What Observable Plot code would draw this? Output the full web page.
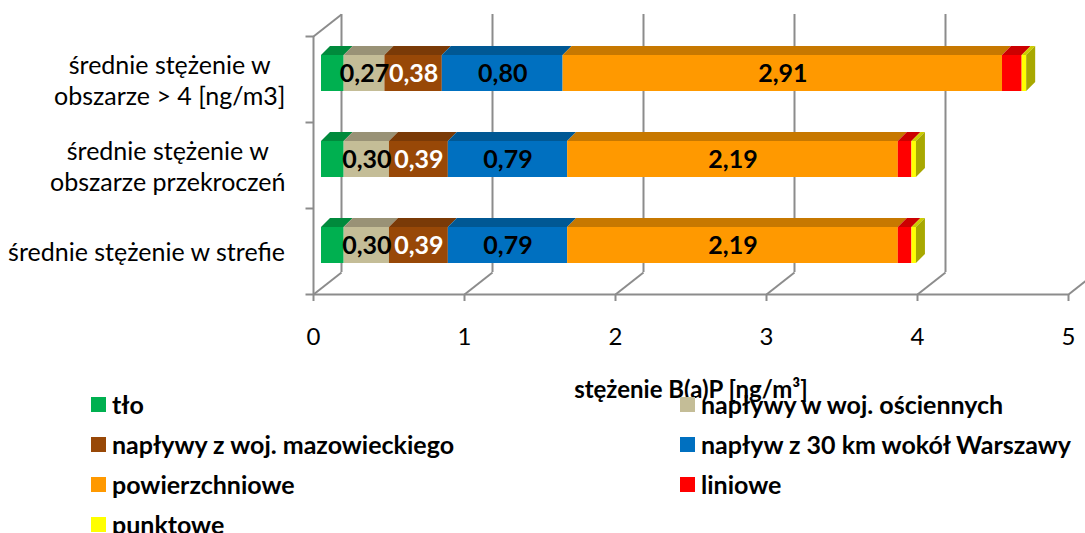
<!DOCTYPE html>
<html>
<head>
<meta charset="utf-8">
<script src="https://cdn.jsdelivr.net/npm/d3@7"></script>
<script src="https://cdn.jsdelivr.net/npm/@observablehq/plot@0.6"></script>
<style>
  html, body { margin: 0; padding: 0; background: #fff; }
  #wrap { position: relative; width: 1085px; height: 533px; overflow: hidden; font-family: Lato, sans-serif; }
  #legend { position: absolute; left: 91px; top: 384px; display: grid; grid-template-columns: 589px auto; }
  .item { height: 40px; display: flex; align-items: center; font-weight: bold; font-size: 25px; color: #000; white-space: nowrap; }
  .sw { width: 15px; height: 15px; margin-right: 6px; flex: none; }
</style>
</head>
<body>
<div id="wrap">
  <div id="chart"></div>
  <div id="legend"></div>
</div>
<script>
// ---- data ----
const categories = [
  "średnie stężenie w\nobszarze > 4 [ng/m3]",
  "średnie stężenie w\nobszarze przekroczeń",
  "średnie stężenie w strefie"
];
const seriesNames = [
  "tło",
  "napływy w woj. ościennych",
  "napływy z woj. mazowieckiego",
  "napływ z 30 km wokół Warszawy",
  "powierzchniowe",
  "liniowe",
  "punktowe"
];
const tlo            = [0.15, 0.15, 0.15];
const osciennych     = [0.27, 0.30, 0.30];
const mazowieckie    = [0.38, 0.39, 0.39];
const warszawa       = [0.80, 0.79, 0.79];
const powierzchniowe = [2.91, 2.19, 2.19];
const liniowe        = [0.13, 0.09, 0.09];
const punktowe       = [0.03, 0.03, 0.03];
const seriesValues = [tlo, osciennych, mazowieckie, warszawa, powierzchniowe, liniowe, punktowe];
const showLabel = [false, true, true, true, true, false, false];
const xTicks = [0, 1, 2, 3, 4, 5];
const xTitle = "stężenie B(a)P [ng/m³]";

// ---- styles ----
const frontColors = ["#00B050", "#C4BD97", "#984807", "#0070C0", "#FF9900", "#FF0000", "#FFFF00"];
const topColors   = ["#008A3C", "#999276", "#7A3A07", "#005894", "#C77800", "#CC0000", "#CCCC00"];
const sideColor = "#A8A800";
const labelColors = ["#000", "#000", "#fff", "#000", "#000", "#000", "#000"];
const GRAY = "#8c8c8c";
const FONT = "Lato, sans-serif";
const catFontSize = 25;

const W = 1085, H = 533, ML = 313, MR = 17, MT = 36, MB = 239;
const xMax = 5, nCat = categories.length;
const kx = xMax / (W - ML - MR);   // data units per px (x)
const ky = nCat / (H - MT - MB);   // data units per px (y)
const WX = 28 * kx, WY = 22 * ky;  // wall depth
const BX = 8 * kx, BY = 6 * ky;    // bar front offset
const HH = 18 * ky;                // half front-face height
const TX = 9 * kx, TY = 9 * ky;    // bar depth
const LABEL_GAP = 28;              // px between category label block and wall

// ---- derived tables ----
const fmt = v => v.toFixed(2).replace(".", ",");
const segs = [];
const ends = [];
categories.forEach((cat, i) => {
  const c = nCat - i - 0.5;
  let acc = 0;
  seriesValues.forEach((vals, j) => {
    const v = vals[i];
    segs.push({cat, c, j, value: v, a: acc, b: acc + v, id: i + "-" + j});
    acc += v;
  });
  ends.push({c, e: acc, id: "s" + i});
});
const topPts = segs.flatMap(d => [
  {z: d.id, y: d.c + BY + HH,      x1: d.a + BX,      x2: d.b + BX,      fill: topColors[d.j]},
  {z: d.id, y: d.c + BY + HH + TY, x1: d.a + BX + TX, x2: d.b + BX + TX, fill: topColors[d.j]}
]);
const sidePts = ends.flatMap(d => [
  {z: d.id, x: d.e + BX,      y1: d.c + BY - HH,      y2: d.c + BY + HH},
  {z: d.id, x: d.e + BX + TX, y1: d.c + BY - HH + TY, y2: d.c + BY + HH + TY}
]);
const labelSegs = segs.filter(d => showLabel[d.j]);

// category label blocks: right-aligned block, lines centred within it
const ctx = document.createElement("canvas").getContext("2d");
ctx.font = `${catFontSize}px ${FONT}`;
const catRows = categories.map((cat, i) => {
  const w = d3.max(cat.split("\n"), s => ctx.measureText(s).width);
  return {cat, c: nCat - i - 0.5, xc: -(LABEL_GAP + w / 2) * kx};
});
const wallTicks = d3.range(nCat + 1);

const line = {stroke: GRAY, strokeWidth: 2};
const chart = Plot.plot({
  width: W, height: H,
  marginLeft: ML, marginRight: MR, marginTop: MT, marginBottom: MB,
  x: {domain: [0, xMax], axis: null},
  y: {domain: [0, nCat], axis: null},
  color: {type: "identity"},
  style: {fontFamily: FONT, background: "transparent", overflow: "visible"},
  marks: [
    // back wall gridlines
    Plot.ruleX(xTicks, {x: d => d + WX, y1: WY, y2: nCat + WY, ...line}),
    // floor diagonals
    Plot.link(xTicks, {x1: d => d, y1: 0, x2: d => d + WX, y2: WY, ...line}),
    // left wall top diagonal
    Plot.link([nCat], {x1: 0, y1: d => d, x2: WX, y2: d => d + WY, ...line}),
    // floor front edge
    Plot.ruleY([0], {x1: 0, x2: xMax, ...line}),
    // left wall front edge + ticks
    Plot.ruleX([0], {y1: 0, y2: nCat, ...line}),
    Plot.link(wallTicks, {x1: -8 * kx, x2: 0, y1: d => d, y2: d => d, ...line}),
    Plot.axisX({ticks: xTicks, tickSize: 7, tickPadding: 26, fontSize: 24, stroke: GRAY, strokeWidth: 2, label: null, tickFormat: d => String(d)}),
    // bars
    Plot.rect(segs, {x1: d => d.a + BX, x2: d => d.b + BX, y1: d => d.c + BY - HH, y2: d => d.c + BY + HH, fill: d => frontColors[d.j]}),
    Plot.areaX(topPts, {y: "y", x1: "x1", x2: "x2", z: "z", fill: "fill"}),
    Plot.areaY(sidePts, {x: "x", y1: "y1", y2: "y2", z: "z", fill: sideColor}),
    // value labels
    Plot.text(labelSegs, {x: d => (d.a + d.b) / 2 + BX, y: d => d.c + BY, text: d => fmt(d.value), fill: d => labelColors[d.j], fontSize: 25, fontWeight: "bold"}),
    // category labels
    Plot.text(catRows, {x: "xc", y: "c", text: "cat", textAnchor: "middle", fontSize: catFontSize, lineHeight: 1.24, fill: "#000"}),
    // axis title
    Plot.text([xTitle], {frameAnchor: "bottom", dy: 103, text: d => d, fontSize: 24, fontWeight: "bold", fill: "#000"})
  ]
});
document.getElementById("chart").appendChild(chart);

// legend
const legend = document.getElementById("legend");
seriesNames.forEach((name, j) => {
  const it = document.createElement("div");
  it.className = "item";
  const sw = document.createElement("span");
  sw.className = "sw";
  sw.style.background = frontColors[j];
  it.appendChild(sw);
  it.appendChild(document.createTextNode(name));
  legend.appendChild(it);
});
</script>
</body>
</html>
